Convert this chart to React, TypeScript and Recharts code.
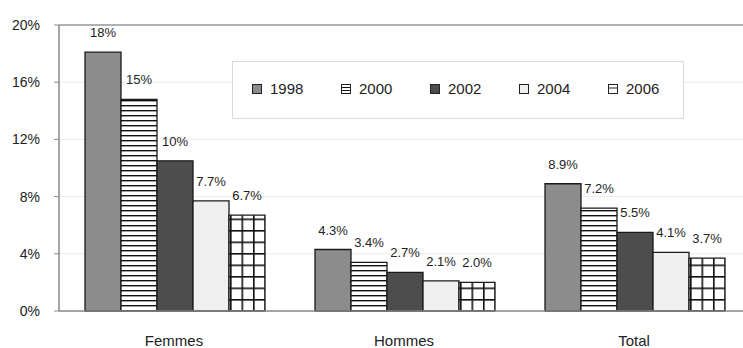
import { BarChart, Bar, XAxis, YAxis, CartesianGrid, ReferenceLine, LabelList } from "recharts";

const groups = ["Femmes", "Hommes", "Total"];
const years = ["1998", "2000", "2002", "2004", "2006"];

const v1998 = [18.1, 4.3, 8.9];
const v2000 = [14.8, 3.4, 7.2];
const v2002 = [10.5, 2.7, 5.5];
const v2004 = [7.7, 2.1, 4.1];
const v2006 = [6.7, 2.0, 3.7];

const l1998 = ["18%", "4.3%", "8.9%"];
const l2000 = ["15%", "3.4%", "7.2%"];
const l2002 = ["10%", "2.7%", "5.5%"];
const l2004 = ["7.7%", "2.1%", "4.1%"];
const l2006 = ["6.7%", "2.0%", "3.7%"];

const yTicks = [0, 4, 8, 12, 16, 20];

const values = [v1998, v2000, v2002, v2004, v2006];
const labels = [l1998, l2000, l2002, l2004, l2006];
const fills = ["#8c8c8c", "url(#stripes)", "#4d4d4d", "#efefef", "url(#grid)"];

const data = groups.map((g, i) => {
  const row: Record<string, string | number> = { name: g };
  years.forEach((y, k) => {
    row["v" + y] = values[k][i];
    row["l" + y] = labels[k][i];
  });
  return row;
});

const font = '"Liberation Sans", Arial, sans-serif';

function Patterns() {
  return (
    <svg width={0} height={0} style={{ position: "absolute" }}>
      <defs>
        <pattern id="stripes" patternUnits="userSpaceOnUse" width={10} height={5}>
          <rect width={10} height={5} fill="#fff" />
          <rect y={0} width={10} height={1.4} fill="#111" />
        </pattern>
        <pattern id="grid" patternUnits="userSpaceOnUse" width={11.5} height={11.5}>
          <rect width={11.5} height={11.5} fill="#fff" />
          <rect x={0} y={0} width={11.5} height={1.6} fill="#111" />
          <rect x={0} y={0} width={1.6} height={11.5} fill="#111" />
        </pattern>
        <pattern id="stripesSm" patternUnits="userSpaceOnUse" width={4} height={3}>
          <rect width={4} height={3} fill="#fff" />
          <rect width={4} height={1} fill="#111" />
        </pattern>
      </defs>
    </svg>
  );
}

function LegendBox() {
  const smallFills = ["#8c8c8c", "url(#stripesSm)", "#4d4d4d", "#efefef", "#fff"];
  return (
    <div
      style={{
        position: "absolute",
        left: 232,
        top: 61,
        width: 450,
        height: 56,
        border: "1px solid #d8d8d8",
        background: "#fff",
        fontFamily: font,
        fontSize: 15,
        color: "#222",
      }}
    >
      {years.map((y, k) => (
        <div key={y} style={{ position: "absolute", left: 19 + k * 89, top: 18, display: "flex", alignItems: "center" }}>
          <svg width={10} height={10} style={{ marginRight: 8 }}>
            <rect x={0.5} y={0.5} width={9} height={9} fill={smallFills[k]} stroke="#222" strokeWidth={1} />
            {k === 4 && <line x1={0.5} y1={4} x2={9.5} y2={4} stroke="#222" />}
          </svg>
          <span>{y}</span>
        </div>
      ))}
    </div>
  );
}

export default function App() {
  return (
    <div style={{ position: "absolute", left: 0, top: 0, width: 743, height: 348, overflow: "hidden", background: "#fff" }}>
      <Patterns />
      <BarChart
        width={750}
        height={348}
        data={data}
        margin={{ top: 25, right: 1, bottom: 3, left: 9 }}
        barCategoryGap={26}
        barGap={0}
      >
        <CartesianGrid vertical={false} stroke="#ececec" />
        <ReferenceLine y={20} stroke="#999" strokeWidth={1.5} />
        <XAxis
          dataKey="name"
          height={34}
          tickLine={false}
          axisLine={{ stroke: "#888", strokeWidth: 1.5 }}
          tick={{ fontFamily: font, fontSize: 15, fill: "#222" }}
          tickMargin={18}
        />
        <YAxis
          width={50}
          domain={[0, 20]}
          ticks={yTicks}
          tickFormatter={(v: number) => v + "%"}
          axisLine={{ stroke: "#888", strokeWidth: 1.5 }}
          tickLine={{ stroke: "#888" }}
          tickSize={5}
          tickMargin={14}
          tick={{ fontFamily: font, fontSize: 14, fill: "#222" }}
        />
        {years.map((y, k) => (
          <Bar key={y} dataKey={"v" + y} name={y} fill={fills[k]} stroke="#1a1a1a" strokeWidth={1.3} isAnimationActive={false}>
            <LabelList
              dataKey={"l" + y}
              position="top"
              offset={15}
              fill="#222"
              stroke="none"
              fontFamily={font}
              fontSize={13}
            />
          </Bar>
        ))}
      </BarChart>
      <LegendBox />
    </div>
  );
}
